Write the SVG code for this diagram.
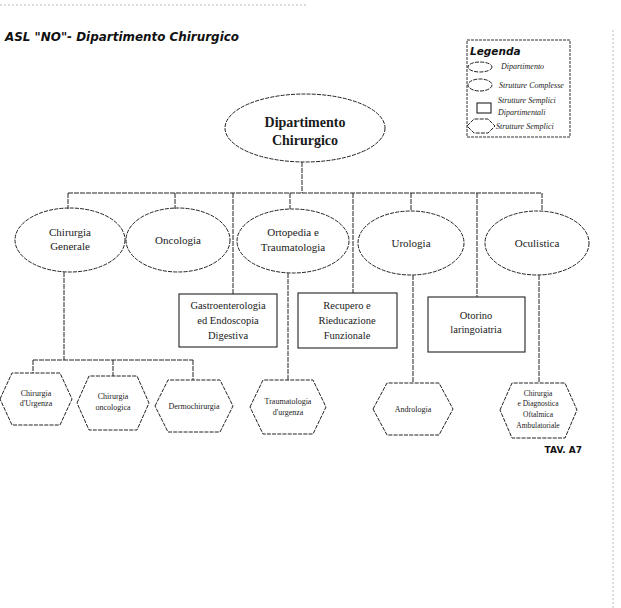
<svg xmlns="http://www.w3.org/2000/svg" width="621" height="608" viewBox="0 0 621 608">
<style>
.bg{fill:#fff}
.sh{fill:none;stroke:#222;stroke-width:1;stroke-dasharray:4 1.2}
.bx{fill:none;stroke:#222;stroke-width:1.1}
.ln{fill:none;stroke:#222;stroke-width:1;stroke-dasharray:5 1}
.t{font-family:"Liberation Serif",serif;fill:#1a1a1a;text-anchor:middle}
.t11{font-size:11px}
.t10{font-size:10.5px}
.t8{font-size:8px}
.lg{font-family:"Liberation Serif",serif;font-style:italic;font-size:8px;fill:#1a1a1a}
.fr{fill:none;stroke:#bbb;stroke-width:1;stroke-dasharray:2 2}
</style>
<rect class="bg" x="0" y="0" width="621" height="608"/>
<line class="fr" x1="0" y1="5" x2="308" y2="5"/>
<line class="fr" x1="613" y1="30" x2="613" y2="608"/>
<text x="5" y="41" font-family="DejaVu Sans,sans-serif" font-weight="bold" font-style="italic" font-size="12" fill="#111" textLength="234" lengthAdjust="spacingAndGlyphs">ASL "NO"- Dipartimento Chirurgico</text>
<g id="legenda">
<rect x="467" y="40" width="103" height="97" fill="none" stroke="#333" stroke-width="1" stroke-dasharray="3 1"/>
<text x="470" y="55" font-family="DejaVu Sans,sans-serif" font-weight="bold" font-style="italic" font-size="10.5" fill="#111">Legenda</text>
<ellipse class="sh" cx="480" cy="67" rx="12" ry="5"/>
<text class="lg" x="501" y="69">Dipartimento</text>
<ellipse class="sh" cx="480" cy="85" rx="12" ry="6"/>
<text class="lg" x="499" y="88">Strutture Complesse</text>
<rect class="bx" x="477" y="103" width="14" height="10"/>
<text class="lg" x="498" y="103">Strutture Semplici</text>
<text class="lg" x="498" y="115">Dipartimentali</text>
<polygon class="sh" points="467,126 474,119 488,119 495,126 488,133 474,133"/>
<text class="lg" x="496" y="129">Strutture Semplici</text>
</g>
<g id="connectors">
<path class="ln" d="M302,162 V193 M68,193 H542 M68,193 V209 M175,193 V209 M233,193 V294 M290,193 V209 M353,193 V293 M411,193 V211 M477,193 V297 M542,193 V211"/>
<path class="ln" d="M64,272 V360 M33,360 H193 M33,360 V373 M113,360 V376 M193,360 V380"/>
<path class="ln" d="M288,273 V380 M413,275 V383 M539,275 V383"/>
</g>
<g id="dipartimento-chirurgico">
<ellipse class="sh" cx="305" cy="128" rx="80" ry="34"/>
<text class="t" x="305" y="127" font-size="14" font-weight="bold">Dipartimento</text>
<text class="t" x="305" y="145" font-size="14" font-weight="bold">Chirurgico</text>
</g>
<g id="chirurgia-generale">
<ellipse class="sh" cx="70" cy="240" rx="55" ry="32"/>
<text class="t t11" x="70" y="236">Chirurgia</text>
<text class="t t11" x="70" y="250">Generale</text>
</g>
<g id="oncologia">
<ellipse class="sh" cx="178" cy="240" rx="52" ry="32"/>
<text class="t t11" x="178" y="244">Oncologia</text>
</g>
<g id="ortopedia">
<ellipse class="sh" cx="293" cy="241" rx="56" ry="32"/>
<text class="t t11" x="293" y="236">Ortopedia e</text>
<text class="t t11" x="293" y="251">Traumatologia</text>
</g>
<g id="urologia">
<ellipse class="sh" cx="411" cy="243" rx="53" ry="32"/>
<text class="t t11" x="411" y="247">Urologia</text>
</g>
<g id="oculistica">
<ellipse class="sh" cx="537" cy="243" rx="52" ry="32"/>
<text class="t t11" x="537" y="247">Oculistica</text>
</g>
<g id="gastroenterologia">
<rect class="bx" x="179" y="294" width="98" height="53"/>
<text class="t t10" x="228" y="309">Gastroenterologia</text>
<text class="t t10" x="228" y="324">ed  Endoscopia</text>
<text class="t t10" x="228" y="339">Digestiva</text>
</g>
<g id="recupero">
<rect class="bx" x="298" y="293" width="99" height="55"/>
<text class="t t10" x="347" y="309">Recupero e</text>
<text class="t t10" x="347" y="324">Rieducazione</text>
<text class="t t10" x="347" y="339">Funzionale</text>
</g>
<g id="otorino">
<rect class="bx" x="428" y="297" width="97" height="55"/>
<text class="t t10" x="476" y="319">Otorino</text>
<text class="t t10" x="476" y="333">laringoiatria</text>
</g>
<g id="chirurgia-urgenza">
<polygon class="sh" points="0,399 12,373 60,373 72,399 60,425 12,425"/>
<text class="t t8" x="36" y="396">Chirurgia</text>
<text class="t t8" x="36" y="406">d'Urgenza</text>
</g>
<g id="chirurgia-oncologica">
<polygon class="sh" points="77,403 89,376 137,376 149,403 137,430 89,430"/>
<text class="t t8" x="113" y="399">Chirurgia</text>
<text class="t t8" x="113" y="410">oncologica</text>
</g>
<g id="dermochirurgia">
<polygon class="sh" points="155,406 168,380 220,380 233,406 220,432 168,432"/>
<text class="t t8" x="194" y="409">Dermochirurgia</text>
</g>
<g id="traumatologia-urgenza">
<polygon class="sh" points="250,407 263,380 313,380 326,407 313,434 263,434"/>
<text class="t t8" x="288" y="404">Traumatologia</text>
<text class="t t8" x="288" y="415">d'urgenza</text>
</g>
<g id="andrologia">
<polygon class="sh" points="373,409 387,383 439,383 453,409 439,435 387,435"/>
<text class="t t8" x="413" y="412">Andrologia</text>
</g>
<g id="chirurgia-oftalmica">
<polygon class="sh" points="500,410 512,383 565,383 577,410 565,438 512,438"/>
<text class="t" x="538" y="396" font-size="7.5">Chirurgia</text>
<text class="t" x="538" y="406" font-size="7.5">e Diagnostica</text>
<text class="t" x="538" y="417" font-size="7.5">Oftalmica</text>
<text class="t" x="538" y="428" font-size="7.5">Ambulatoriale</text>
</g>
<text x="582" y="453" font-family="DejaVu Sans,sans-serif" font-weight="bold" font-size="9" fill="#111" text-anchor="end">TAV. A7</text>
</svg>
